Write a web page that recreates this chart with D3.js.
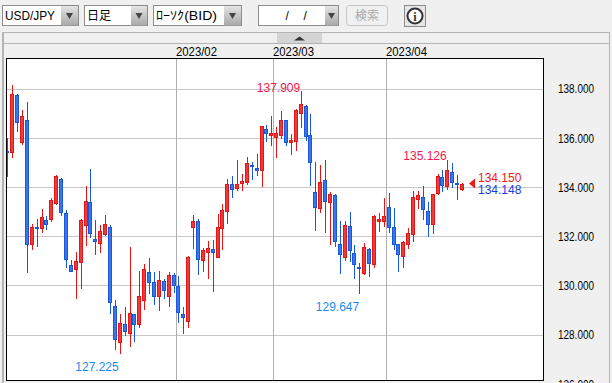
<!DOCTYPE html>
<html>
<head>
<meta charset="utf-8">
<script src="https://d3js.org/d3.v7.min.js"></script>
<style>
  html, body { margin: 0; padding: 0; background: #f0f0f0; overflow: hidden; }
  svg { display: block; }
  text { font-family: "Liberation Sans", "Noto Sans CJK JP", sans-serif; font-size: 12px; }
</style>
</head>
<body>
<div id="chart"></div>
<script>
// USD/JPY daily candles
const opens = [135.48,135.43,137.76,135.82,136.73,131.67,132.38,132.34,132.67,132.73,
  133.34,134.34,132.95,130.83,130.68,130.98,132.44,133.39,131.90,131.73,
  132.08,132.38,129.17,127.69,128.43,128.05,128.84,128.42,129.39,130.55,
  130.14,129.56,130.18,129.56,130.43,129.98,128.84,128.54,132.36,132.62,
  131.02,131.35,131.48,131.18,132.32,133.05,134.13,133.95,134.15,134.19,
  134.90,134.78,134.70,136.36,136.10,136.02,136.10,136.73,135.86,135.86,
  137.00,137.30,136.12,133.80,133.17,134.29,133.38,133.68,131.69,131.16,
  132.42,131.32,130.76,130.53,131.48,130.87,132.65,132.61,133.19,132.38,
  131.69,131.22,131.69,132.08,133.52,133.60,133.03,132.52,133.74,134.41,
  134.03,134.61,134.17,133.95];
const highs = [136.01,138.16,137.80,137.15,137.47,132.51,132.70,133.12,132.84,133.57,
  134.50,134.38,133.08,131.05,131.37,132.72,134.06,134.75,132.67,132.47,
  132.88,132.46,129.42,128.85,129.13,131.58,128.85,130.60,130.89,131.12,
  130.56,130.60,130.28,130.56,130.52,130.40,129.14,131.21,132.88,132.72,
  131.54,131.82,131.86,132.92,133.33,134.34,134.46,135.11,134.54,135.22,
  135.03,135.36,136.50,136.54,136.90,136.46,137.11,136.74,136.17,137.17,
  137.909,137.34,136.98,135.03,134.90,135.11,133.81,133.73,132.63,132.63,
  133.00,131.66,130.93,131.74,131.54,132.88,132.95,133.57,133.77,133.16,
  131.70,131.82,132.35,133.85,133.85,134.06,133.41,133.73,134.53,134.71,
  135.126,134.98,134.50,134.17];
const lows = [134.42,135.21,136.26,135.74,130.53,131.47,131.59,132.13,132.27,132.61,
  133.28,132.85,130.74,130.56,129.46,129.87,131.62,131.94,131.26,131.32,
  132.02,128.84,127.40,127.225,127.97,127.52,127.73,128.28,129.03,129.68,
  129.22,128.99,129.48,129.15,129.72,128.50,128.05,128.30,131.50,130.44,
  130.56,130.28,129.75,131.16,131.46,132.51,133.56,133.87,133.87,134.11,
  134.31,134.46,134.03,135.85,135.68,135.20,135.97,135.68,135.32,135.48,
  136.41,135.89,134.06,132.24,132.97,132.16,131.66,131.57,130.49,131.02,
  130.97,130.29,129.647,130.44,130.37,130.74,132.19,132.40,132.15,131.46,
  130.57,130.72,131.50,131.78,133.11,132.67,132.00,132.11,133.68,133.81,
  133.89,133.98,133.50,133.87];
const closes = [135.46,137.78,136.67,136.89,131.69,132.38,132.32,132.78,132.52,133.49,
  134.45,133.01,131.06,130.57,131.01,132.67,133.43,132.12,131.82,132.22,
  132.50,129.33,127.81,128.48,128.13,128.88,128.42,129.57,130.67,130.13,
  129.56,130.22,129.80,130.43,130.04,128.91,128.70,131.16,132.62,131.06,
  131.44,131.52,131.35,132.38,133.07,134.13,133.92,134.13,134.25,134.98,
  134.84,134.68,136.48,136.18,136.20,136.20,136.73,135.82,135.93,137.13,
  137.38,136.10,135.04,133.17,134.22,133.43,133.72,131.81,131.30,132.46,
  131.44,130.87,130.71,131.57,130.90,132.83,132.72,132.83,132.36,131.67,
  131.30,131.77,132.13,133.60,133.68,133.13,132.52,133.72,134.45,134.09,
  134.70,134.21,134.13,134.15];

const priceTicks = [138, 136, 134, 132, 130, 128, 126];
const monthLabels = ['2023/02', '2023/03', '2023/04'];
const monthPositions = [34.5, 54.3, 77.4]; // candle index where the month line falls

const width = 612, height = 383;
const frame = {left: 6, top: 58, right: 543, bottom: 380};

const upFill = '#ea3c3c', upLine = '#e81414';
const downFill = '#3c76e6', downLine = '#1657e0';

const svg = d3.select('#chart').append('svg')
    .attr('width', width)
    .attr('height', height);

const x = d3.scaleLinear().domain([0, opens.length - 1]).range([7.3, 462]);
const y = d3.scaleLinear().domain([138, 128]).range([89, 335]);
const px = d => Math.round(x(d));
const py = d => Math.floor(y(d)) + 0.5;

// outer panel
const panel = svg.append('g');
panel.append('rect').attr('x', 2.5).attr('y', 32.5).attr('width', 607).attr('height', 360)
    .attr('fill', '#f0f0f0').attr('stroke', '#b4b4b4').attr('stroke-width', 1);
panel.append('rect').attr('x', 2).attr('y', 32).attr('width', 2).attr('height', 351).attr('fill', '#b4b4b4');
panel.append('line').attr('x1', 2).attr('x2', 609).attr('y1', 43.5).attr('y2', 43.5).attr('stroke', '#b4b4b4');
panel.append('rect').attr('x', 277).attr('y', 33).attr('width', 45).attr('height', 10).attr('fill', '#d4d4d4');
panel.append('path').attr('d', 'M294,40.5L299.5,36.5L305,40.5Z').attr('fill', '#333');

// toolbar
function selectBox(left, right, split, label, labelWidth) {
  const g = svg.append('g');
  g.append('rect').attr('x', left + 0.5).attr('y', 5.5).attr('width', right - left).attr('height', 20)
      .attr('fill', '#fff').attr('stroke', '#8c8c8c');
  g.append('rect').attr('x', split).attr('y', 6).attr('width', right - split).attr('height', 19.5)
      .attr('fill', 'url(#btnGrad)');
  g.append('path')
      .attr('d', `M${(split + right) / 2 - 3.5},13L${(split + right) / 2 + 3.5},13L${(split + right) / 2},19Z`)
      .attr('fill', '#444');
  const t = g.append('text').attr('x', left + 3).attr('y', 20).attr('fill', '#000').text(label);
  if (labelWidth) t.attr('textLength', labelWidth).attr('lengthAdjust', 'spacingAndGlyphs');
}

const defs = svg.append('defs');
const btnGrad = defs.append('linearGradient').attr('id', 'btnGrad').attr('x1', 0).attr('x2', 0).attr('y1', 0).attr('y2', 1);
btnGrad.append('stop').attr('offset', 0).attr('stop-color', '#e4e4e4');
btnGrad.append('stop').attr('offset', 1).attr('stop-color', '#a8a8a8');
defs.append('clipPath').attr('id', 'plotClip').append('rect')
    .attr('x', frame.left + 1).attr('y', frame.top + 1)
    .attr('width', frame.right - frame.left - 1).attr('height', frame.bottom - frame.top - 1);

selectBox(2, 78, 61, 'USD/JPY', 50);
selectBox(84, 147, 131, '日足');
selectBox(153, 241, 224, 'ﾛｰｿｸ(BID)', 61);
selectBox(258, 338, 325, '');
svg.append('text').attr('x', 285.5).attr('y', 20).text('/');
svg.append('text').attr('x', 303.5).attr('y', 20).text('/');

svg.append('rect').attr('x', 346.5).attr('y', 5.5).attr('width', 41).attr('height', 20).attr('rx', 3)
    .attr('fill', '#f0f0f0').attr('stroke', '#c4c4c4');
svg.append('text').attr('x', 367).attr('y', 20).attr('text-anchor', 'middle').attr('fill', '#aaa').text('検索');

svg.append('rect').attr('x', 404.5).attr('y', 5.5).attr('width', 21).attr('height', 21)
    .attr('fill', '#e6e6e6').attr('stroke', '#8c8c8c');
svg.append('circle').attr('cx', 415).attr('cy', 16).attr('r', 7.5)
    .attr('fill', '#fff').attr('stroke', '#333').attr('stroke-width', 2);
svg.append('text').attr('x', 415).attr('y', 20.5).attr('text-anchor', 'middle')
    .attr('font-weight', 'bold').attr('fill', '#333').style('font-family', '"Liberation Serif", serif').text('i');

// plot area
svg.append('rect')
    .attr('x', frame.left).attr('y', frame.top)
    .attr('width', frame.right - frame.left).attr('height', frame.bottom - frame.top)
    .attr('fill', '#fff');

const plot = svg.append('g').attr('clip-path', 'url(#plotClip)');

plot.selectAll('.h-grid')
    .data(priceTicks)
  .join('line')
    .attr('class', 'h-grid')
    .attr('x1', frame.left).attr('x2', frame.right)
    .attr('y1', py).attr('y2', py)
    .attr('stroke', '#c8c8c8');

plot.selectAll('.v-grid')
    .data(monthPositions)
  .join('line')
    .attr('class', 'v-grid')
    .attr('x1', d => px(d) + 0.5).attr('x2', d => px(d) + 0.5)
    .attr('y1', frame.top).attr('y2', frame.bottom)
    .attr('stroke', '#b0b0b0');

// candles
const candles = plot.selectAll('.candle')
    .data(opens.map((o, i) => i))
  .join('g')
    .attr('class', 'candle')
    .attr('shape-rendering', 'crispEdges');

candles.append('line')
    .attr('x1', i => px(i) + 0.5).attr('x2', i => px(i) + 0.5)
    .attr('y1', i => y(highs[i])).attr('y2', i => y(lows[i]))
    .attr('stroke', i => closes[i] >= opens[i] ? upLine : downLine);

candles.append('rect')
    .attr('x', i => px(i) - 1.5)
    .attr('y', i => Math.round(y(Math.max(opens[i], closes[i]))) + 0.5)
    .attr('width', 3)
    .attr('height', i => Math.max(1, Math.round(Math.abs(y(opens[i]) - y(closes[i])))))
    .attr('fill', i => closes[i] >= opens[i] ? upFill : downFill)
    .attr('stroke', i => closes[i] >= opens[i] ? upLine : downLine);

// frame on top of the candles
svg.append('rect')
    .attr('x', frame.left + 0.5).attr('y', frame.top + 0.5)
    .attr('width', frame.right - frame.left).attr('height', frame.bottom - frame.top)
    .attr('fill', 'none').attr('stroke', '#000');

// axes
const priceAxis = d3.axisRight(y)
    .tickValues(priceTicks)
    .tickFormat(d3.format('.3f'))
    .tickSize(0)
    .tickPadding(0);

const yAxisG = svg.append('g')
    .attr('transform', 'translate(558,0)')
    .call(priceAxis);
yAxisG.select('.domain').remove();
yAxisG.selectAll('text')
    .attr('fill', '#000')
    .attr('textLength', 36)
    .attr('lengthAdjust', 'spacingAndGlyphs');

// month labels start at their grid line
const monthScale = d3.scaleOrdinal().domain(monthLabels).range(monthPositions.map(d => px(d) + 0.5));
const monthAxis = d3.axisTop(monthScale)
    .tickSize(0)
    .tickPadding(1);

const xAxisG = svg.append('g')
    .attr('transform', 'translate(0,57)')
    .call(monthAxis);
xAxisG.select('.domain').remove();
xAxisG.selectAll('text')
    .attr('fill', '#000')
    .attr('text-anchor', 'start')
    .attr('dx', -1)
    .attr('textLength', 41)
    .attr('lengthAdjust', 'spacingAndGlyphs');

// high / low / last price notes
const highColor = '#f5174c', lowColor = '#1a8cf0';
const notes = [
  {text: '137.909', x: 278.5, y: 92, color: highColor},
  {text: '127.225', x: 97, y: 371, color: lowColor},
  {text: '135.126', x: 425, y: 160, color: highColor},
  {text: '129.647', x: 337.5, y: 311, color: lowColor},
];
svg.selectAll('.note')
    .data(notes)
  .join('text')
    .attr('class', 'note')
    .attr('x', d => d.x).attr('y', d => d.y)
    .attr('text-anchor', 'middle')
    .attr('fill', d => d.color)
    .text(d => d.text);

svg.append('text').attr('x', 478).attr('y', 182).attr('fill', '#f01818').text('134.150');
svg.append('text').attr('x', 478).attr('y', 194).attr('fill', '#1a3ce0').text('134.148');
svg.append('path').attr('d', 'M469,183.5L475,178.5L475,188.5Z').attr('fill', '#f01818');
</script>
</body>
</html>
